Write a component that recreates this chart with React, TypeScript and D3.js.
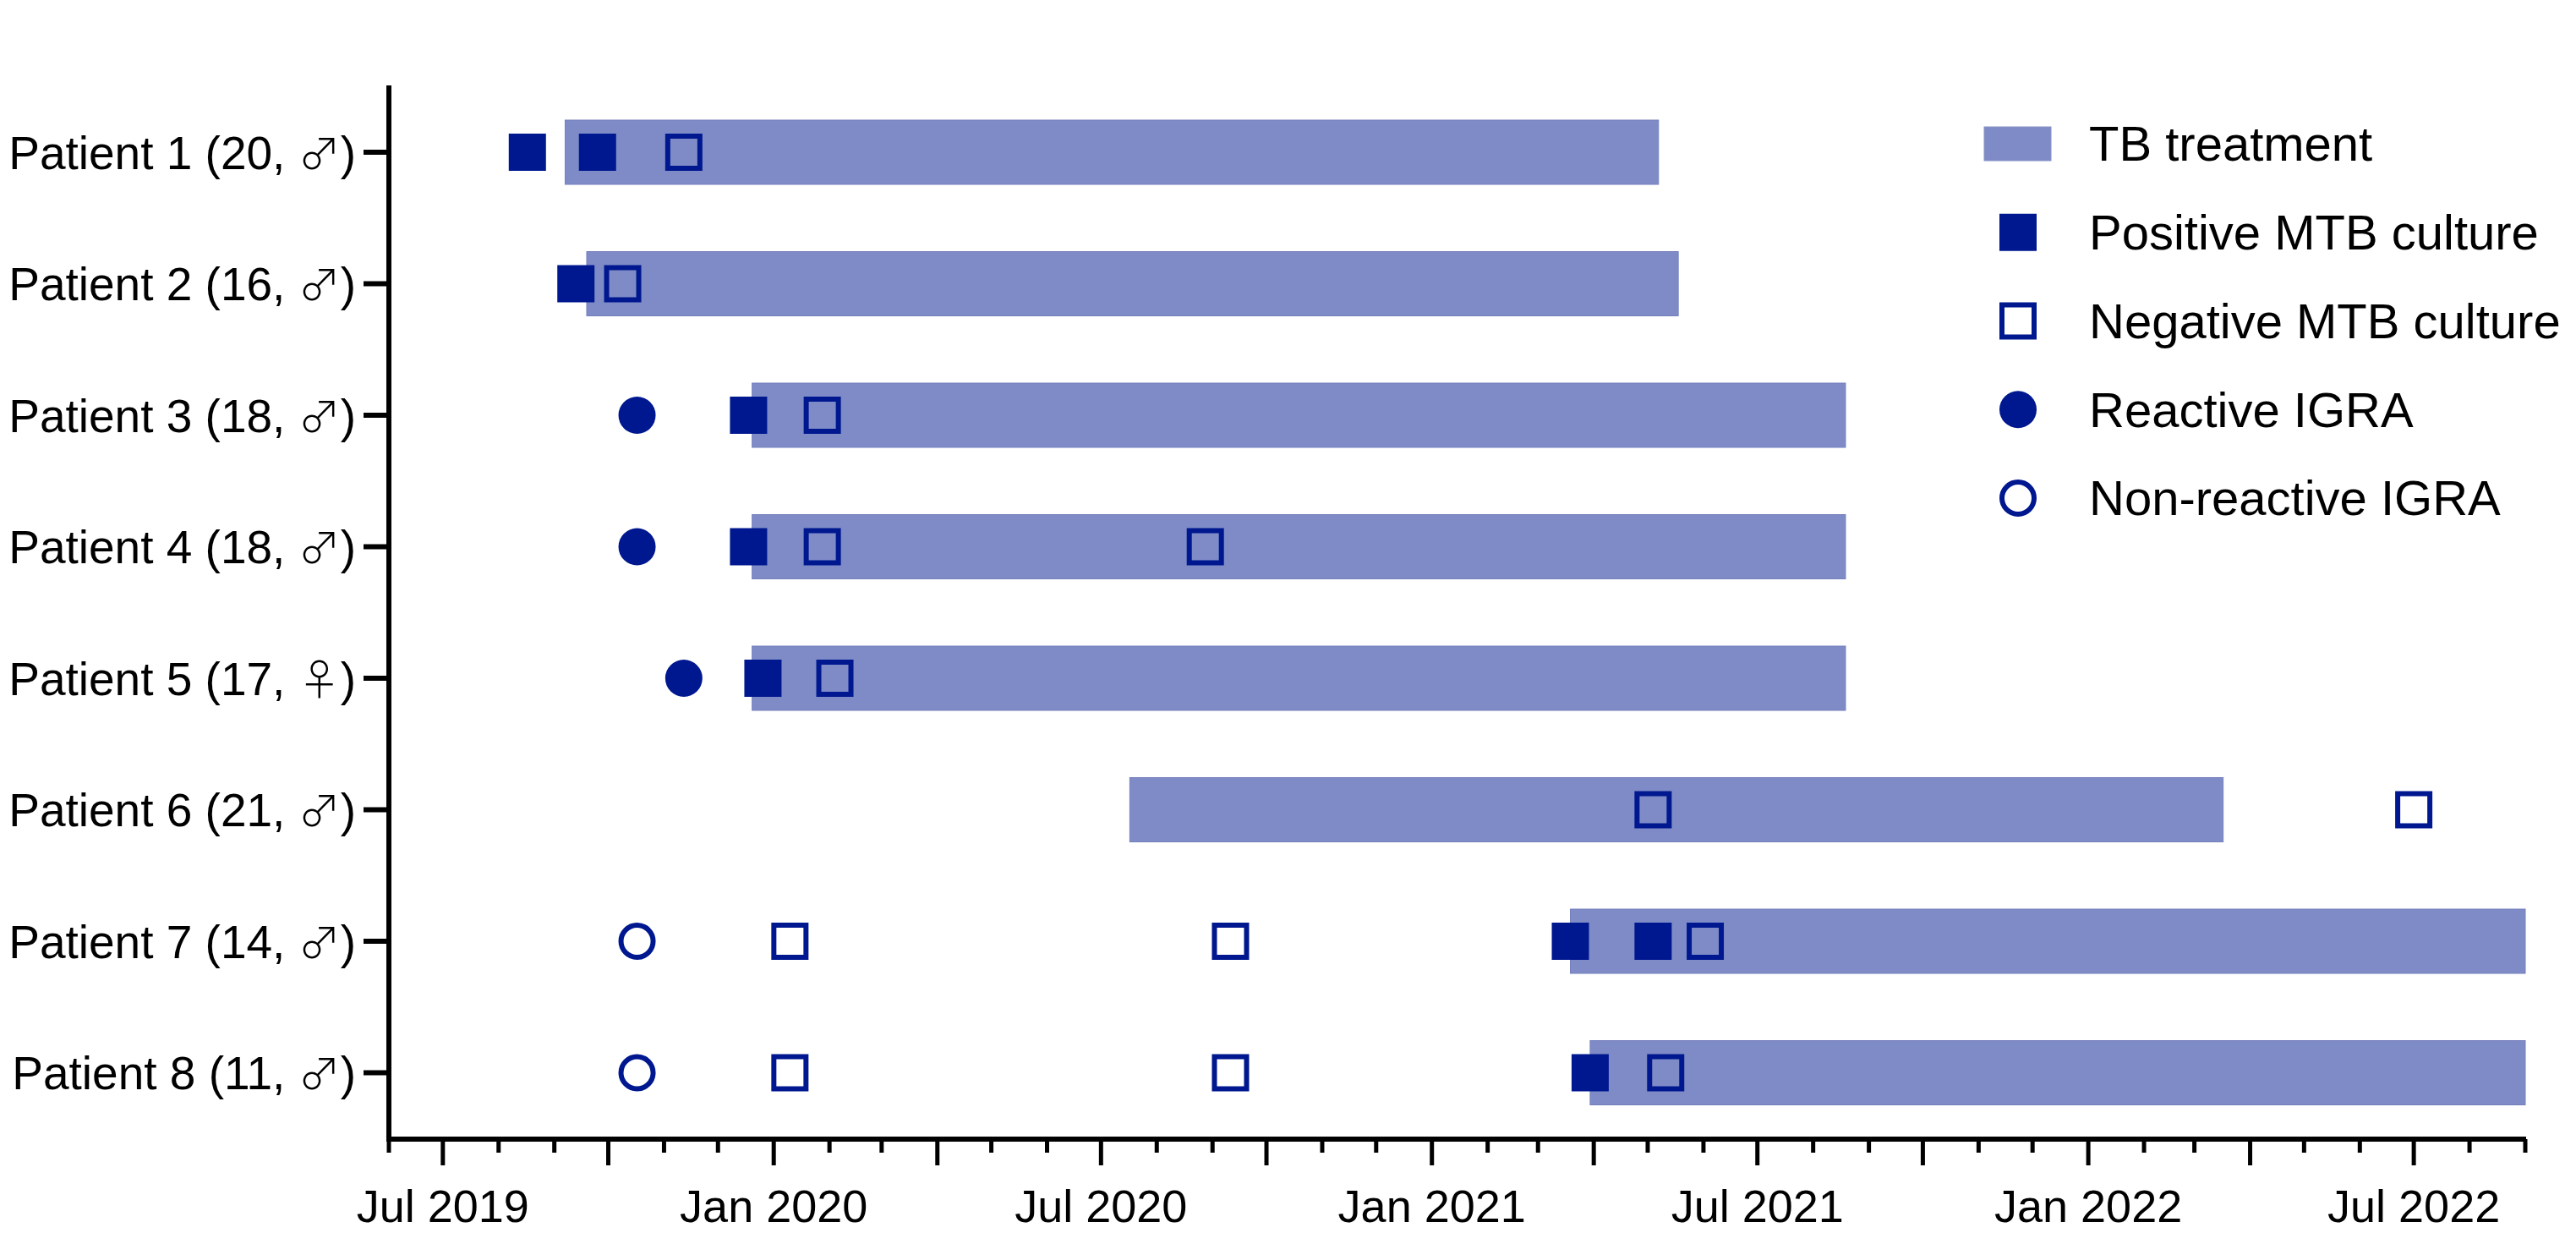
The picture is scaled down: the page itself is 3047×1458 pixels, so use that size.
import React from "react";
import * as d3 from "d3";

const patients = [
  "Patient 1 (20, ♂)",
  "Patient 2 (16, ♂)",
  "Patient 3 (18, ♂)",
  "Patient 4 (18, ♂)",
  "Patient 5 (17, ♀)",
  "Patient 6 (21, ♂)",
  "Patient 7 (14, ♂)",
  "Patient 8 (11, ♂)",
];

// TB treatment periods (per patient index)
const treatmentStart = [
  "2019-09-07", "2019-09-19", "2019-12-20", "2019-12-20",
  "2019-12-20", "2020-07-17", "2021-03-19", "2021-03-30",
];
const treatmentEnd = [
  "2021-05-07", "2021-05-18", "2021-08-19", "2021-08-19",
  "2021-08-19", "2022-03-17", "2022-09-01", "2022-09-01",
];

// [patient index, date]
const positiveCulture: [number, string][] = [
  [0, "2019-08-17"], [0, "2019-09-25"],
  [1, "2019-09-13"],
  [2, "2019-12-18"],
  [3, "2019-12-18"],
  [4, "2019-12-26"],
  [6, "2021-03-19"], [6, "2021-05-04"],
  [7, "2021-03-30"],
];
const negativeCulture: [number, string][] = [
  [0, "2019-11-12"],
  [1, "2019-10-09"],
  [2, "2020-01-28"],
  [3, "2020-01-28"], [3, "2020-08-28"],
  [4, "2020-02-04"],
  [5, "2021-05-04"], [5, "2022-07-01"],
  [6, "2020-01-10"], [6, "2020-09-11"], [6, "2021-06-02"],
  [7, "2020-01-10"], [7, "2020-09-11"], [7, "2021-05-11"],
];
const reactiveIGRA: [number, string][] = [
  [2, "2019-10-17"],
  [3, "2019-10-17"],
  [4, "2019-11-12"],
];
const nonReactiveIGRA: [number, string][] = [
  [6, "2019-10-17"],
  [7, "2019-10-17"],
];

const axisStart = "2019-06-01";
const axisEnd = "2022-09-01";

const legendLabels = [
  "TB treatment",
  "Positive MTB culture",
  "Negative MTB culture",
  "Reactive IGRA",
  "Non-reactive IGRA",
];

const parse = d3.timeParse("%Y-%m-%d");
const NAVY = "#00188F";
const BAR = "#7F8BC7";
const FONT = "'Liberation Sans', Arial, 'DejaVu Sans', sans-serif";
const SYMFONT = "'Noto Sans CJK JP', 'Noto Sans CJK SC', 'DejaVu Sans', sans-serif";

function Label({ text, x, y }: { text: string; x: number; y: number }) {
  const sym = text.match(/[♂♀]/);
  if (!sym) {
    return (
      <text x={x} y={y} dy="0.36em" textAnchor="end" fontSize={55} fill="#000">
        {text}
      </text>
    );
  }
  const idx = text.indexOf(sym[0]);
  return (
    <text x={x} y={y} dy="0.36em" textAnchor="end" fontSize={55} fill="#000">
      {text.slice(0, idx)}
      <tspan fontFamily={SYMFONT} fontWeight={300} fontSize={50}>
        {sym[0]}
      </tspan>
      <tspan>{text.slice(idx + 1)}</tspan>
    </text>
  );
}

export default function App() {
  const W = 3047;
  const H = 1458;
  const x = d3
    .scaleTime()
    .domain([parse(axisStart)!, parse(axisEnd)!])
    .range([460, 2987]);
  const y = d3.scalePoint<string>().domain(patients).range([180, 1268.5]);

  const barH = 76;
  const ms = 44; // marker size
  const sw = 6;
  const axisY = 1347;

  const months = d3.timeMonth.range(
    parse(axisStart)!,
    d3.timeDay.offset(parse(axisEnd)!, 1)
  );
  const fmt = d3.timeFormat("%b %Y");

  const legendY = d3.scalePoint<string>().domain(legendLabels).range([170, 589]);
  const lx = 2387;

  return (
    <svg
      width={W}
      height={H}
      style={{ position: "absolute", left: 0, top: 0, background: "#fff" }}
      fontFamily={FONT}
    >
      <rect x={0} y={0} width={W} height={H} fill="#fff" />
      {/* bars */}
      {patients.map((p, i) => {
        const x0 = x(parse(treatmentStart[i])!);
        const x1 = x(parse(treatmentEnd[i])!);
        return (
          <rect
            key={"b" + i}
            x={x0}
            y={y(p)! - barH / 2}
            width={x1 - x0}
            height={barH}
            fill={BAR}
            stroke="#7480bd"
            strokeWidth={1}
          />
        );
      })}
      {/* positive culture */}
      {positiveCulture.map(([i, d], k) => (
        <rect
          key={"pc" + k}
          x={x(parse(d)!) - ms / 2}
          y={y(patients[i])! - ms / 2}
          width={ms}
          height={ms}
          fill={NAVY}
        />
      ))}
      {negativeCulture.map(([i, d], k) => (
        <rect
          key={"nc" + k}
          x={x(parse(d)!) - ms / 2 + sw / 2}
          y={y(patients[i])! - ms / 2 + sw / 2}
          width={ms - sw}
          height={ms - sw}
          fill="none"
          stroke={NAVY}
          strokeWidth={sw}
        />
      ))}
      {reactiveIGRA.map(([i, d], k) => (
        <circle
          key={"ri" + k}
          cx={x(parse(d)!)}
          cy={y(patients[i])!}
          r={ms / 2}
          fill={NAVY}
        />
      ))}
      {nonReactiveIGRA.map(([i, d], k) => (
        <circle
          key={"ni" + k}
          cx={x(parse(d)!)}
          cy={y(patients[i])!}
          r={ms / 2 - sw / 2}
          fill="none"
          stroke={NAVY}
          strokeWidth={sw}
        />
      ))}

      {/* y axis */}
      <line x1={460} x2={460} y1={101} y2={axisY + 3} stroke="#000" strokeWidth={6} />
      {patients.map((p) => (
        <g key={"yt" + p}>
          <line x1={430} x2={460} y1={y(p)} y2={y(p)} stroke="#000" strokeWidth={6} />
          <Label text={p} x={421} y={y(p)!} />
        </g>
      ))}

      {/* x axis */}
      <line x1={457} x2={2988} y1={axisY} y2={axisY} stroke="#000" strokeWidth={6} />
      {months.map((m, k) => {
        const major = m.getMonth() % 3 === 0;
        const labeled = m.getMonth() % 6 === 0;
        const xx = x(m);
        return (
          <g key={"xt" + k}>
            <line
              x1={xx}
              x2={xx}
              y1={axisY}
              y2={axisY + (major ? 31 : 16)}
              stroke="#000"
              strokeWidth={5}
            />
            {labeled && (
              <text x={xx} y={1445} textAnchor="middle" fontSize={54} fill="#000">
                {fmt(m)}
              </text>
            )}
          </g>
        );
      })}

      {/* legend */}
      {legendLabels.map((l, k) => {
        const ly = legendY(l)!;
        let sym: React.ReactNode = null;
        if (k === 0)
          sym = (
            <rect x={2347} y={ly - 20} width={79} height={40} fill={BAR} stroke="#8a93c4" strokeWidth={1} />
          );
        else if (k === 1)
          sym = <rect x={lx - ms / 2} y={ly - ms / 2} width={ms} height={ms} fill={NAVY} />;
        else if (k === 2)
          sym = (
            <rect
              x={lx - ms / 2 + sw / 2}
              y={ly - ms / 2 + sw / 2}
              width={ms - sw}
              height={ms - sw}
              fill="none"
              stroke={NAVY}
              strokeWidth={sw}
            />
          );
        else if (k === 3) sym = <circle cx={lx} cy={ly} r={ms / 2} fill={NAVY} />;
        else
          sym = (
            <circle cx={lx} cy={ly} r={ms / 2 - sw / 2} fill="none" stroke={NAVY} strokeWidth={sw} />
          );
        return (
          <g key={"lg" + k}>
            {sym}
            <text x={2471} y={ly} dy="0.35em" fontSize={58} fill="#000">
              {l}
            </text>
          </g>
        );
      })}
    </svg>
  );
}
